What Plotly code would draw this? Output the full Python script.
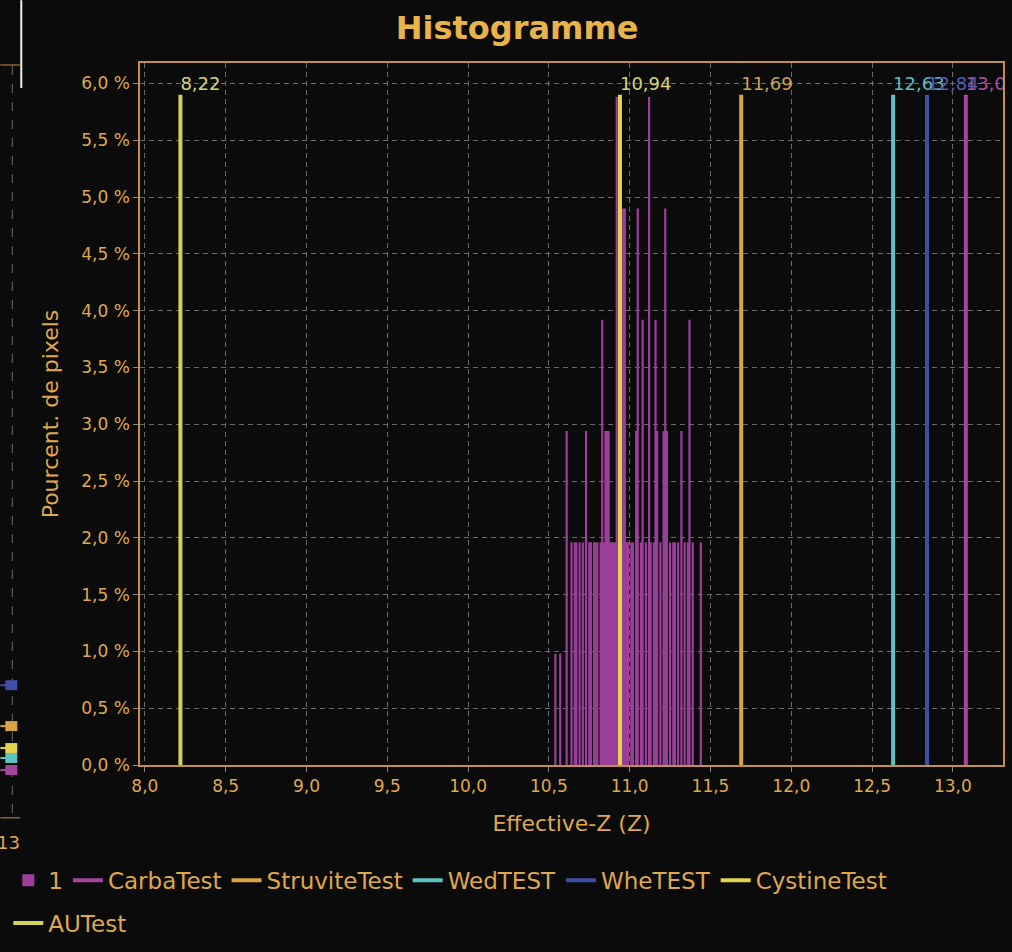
import plotly.graph_objects as go

# ---------------- data ----------------
# histogram of effective-Z (bin centres) and percentage of pixels
hist_z = [10.54, 10.57, 10.61, 10.64, 10.66, 10.67, 10.69, 10.71, 10.73, 10.75,
          10.76, 10.78, 10.79, 10.80, 10.82, 10.83, 10.84, 10.85, 10.86, 10.87,
          10.88, 10.89, 10.90, 10.91, 10.92, 10.93, 10.94, 10.95, 10.96, 10.97,
          10.98, 10.99, 11.01, 11.02, 11.04, 11.05, 11.07, 11.08, 11.10, 11.12,
          11.13, 11.15, 11.16, 11.17, 11.19, 11.21, 11.22, 11.23, 11.25, 11.27,
          11.28, 11.30, 11.32, 11.34, 11.36, 11.37, 11.39, 11.44]
hist_pct = [0.98, 0.98, 2.94, 1.96, 1.96, 1.96, 1.96, 1.96, 2.94, 1.96,
            1.96, 1.96, 1.96, 1.96, 1.96, 3.92, 1.96, 2.94, 2.94, 2.94,
            1.96, 1.96, 1.96, 1.96, 5.88, 1.96, 1.96, 1.96, 4.90, 4.90,
            1.96, 1.96, 1.96, 1.96, 2.94, 4.90, 1.96, 3.92, 1.96, 5.88,
            1.96, 1.96, 3.92, 2.94, 1.96, 2.94, 4.90, 2.94, 1.96, 1.96,
            1.96, 1.96, 2.94, 1.96, 1.96, 3.92, 1.96, 1.96]

# reference material lines
ref_names = ["CarbaTest", "StruviteTest", "WedTEST", "WheTEST", "CystineTest", "AUTest"]
ref_z = [13.08, 11.69, 12.63, 12.84, 10.94, 8.22]
ref_colors = ["#a3449f", "#d9a444", "#5cc3c3", "#3f4fa8", "#e2d44c", "#d2d05a"]
ref_label_colors = ["#a8509f", "#c9a252", "#5fb9bd", "#4d5db0", "#d8d27a", "#d4d47c"]
ref_top = 5.9  # height of the reference lines (%)

x_ticks = [8.0, 8.5, 9.0, 9.5, 10.0, 10.5, 11.0, 11.5, 12.0, 12.5, 13.0]
x_ticktext = ["8,0", "8,5", "9,0", "9,5", "10,0", "10,5", "11,0", "11,5", "12,0", "12,5", "13,0"]
y_ticks = [0.0, 0.5, 1.0, 1.5, 2.0, 2.5, 3.0, 3.5, 4.0, 4.5, 5.0, 5.5, 6.0]
y_ticktext = ["0,0 %", "0,5 %", "1,0 %", "1,5 %", "2,0 %", "2,5 %", "3,0 %", "3,5 %",
              "4,0 %", "4,5 %", "5,0 %", "5,5 %", "6,0 %"]

# ---------------- style ----------------
BG = "#0b0b0b"
GOLD = "#dea84c"
FRAME = "#c4913e"
GRID = "#6a6a6a"
PURPLE = "#9c3f9b"
FONT = "DejaVu Sans"

W, H = 1012, 952
L, R, T, B = 140, 1005, 63, 767


def px(xp):
    return (xp - L) / (R - L)


def py(yp):
    return (B - yp) / (B - T)


fig = go.Figure()

fig.add_trace(go.Bar(
    x=hist_z, y=hist_pct, width=0.0135, name="1",
    marker=dict(color=PURPLE, line=dict(width=0)),
    legend="legend",
))

for name, z, col, lcol in zip(ref_names, ref_z, ref_colors, ref_label_colors):
    lg = "legend2" if name == "AUTest" else "legend"
    fig.add_trace(go.Scatter(
        x=[z, z], y=[0, ref_top], mode="lines", name=name,
        line=dict(color=col, width=4), legend=lg,
    ))
    fig.add_trace(go.Scatter(
        x=[z], y=[ref_top], mode="text", text=[f"{z:.2f}".replace(".", ",")],
        textposition="top right", showlegend=False, cliponaxis=True,
        textfont=dict(family=FONT, size=18, color=lcol),
        hoverinfo="skip",
    ))

axis_common = dict(
    showline=True, linecolor=FRAME, linewidth=1.5, mirror=True,
    showgrid=True, gridcolor=GRID, griddash="5px,4px", gridwidth=1,
    zeroline=False, ticks="outside", ticklen=5, tickcolor="#8a8a8a",
    tickfont=dict(family=FONT, size=17, color=GOLD),
)

fig.update_xaxes(
    range=[7.97, 13.31], tickvals=x_ticks, ticktext=x_ticktext,
    title=dict(text="Effective-Z (Z)", font=dict(family=FONT, size=22, color=GOLD), standoff=20),
    **axis_common,
)
fig.update_yaxes(
    range=[0, 6.18], tickvals=y_ticks, ticktext=y_ticktext,
    title=dict(text="Pourcent. de pixels", font=dict(family=FONT, size=22, color=GOLD), standoff=17),
    **axis_common,
)

# fragments of the neighbouring panel visible on the left edge
shapes = [
    dict(type="line", xref="paper", yref="paper", x0=px(21), x1=px(21), y0=py(0), y1=py(88),
         line=dict(color="#f0f0f0", width=2)),
    dict(type="line", xref="paper", yref="paper", x0=px(0), x1=px(20), y0=py(65), y1=py(65),
         line=dict(color=FRAME, width=1)),
    dict(type="line", xref="paper", yref="paper", x0=px(12), x1=px(12), y0=py(66), y1=py(820),
         line=dict(color=GRID, width=1, dash="dash")),
    dict(type="line", xref="paper", yref="paper", x0=px(0), x1=px(20), y0=py(820), y1=py(820),
         line=dict(color=FRAME, width=1)),
]
marks = [(687, "#3f4fa8"), (728, "#d9a444"), (750, "#e2d44c"), (760, "#5cc3c3"), (772, "#a3449f")]
for yp, c in marks:
    shapes.append(dict(type="rect", xref="paper", yref="paper", x0=px(5), x1=px(17),
                       y0=py(yp + 5), y1=py(yp - 5), fillcolor=c, line=dict(width=0)))
    shapes.append(dict(type="line", xref="paper", yref="paper", x0=px(0), x1=px(12),
                       y0=py(yp), y1=py(yp), line=dict(color=c, width=2)))

fig.update_layout(
    width=W, height=H,
    margin=dict(l=L, r=W - R, t=T, b=H - B),
    paper_bgcolor=BG, plot_bgcolor=BG,
    title=dict(text="<b>Histogramme</b>", x=0.511, xref="container", y=1 - 28 / H,
               yref="container", xanchor="center", yanchor="middle",
               font=dict(family=FONT, size=32, color="#e8b44a")),
    barmode="overlay",
    showlegend=True,
    legend=dict(orientation="h", x=px(8), y=py(861), xanchor="left", yanchor="top",
                font=dict(family=FONT, size=23, color=GOLD), bgcolor="rgba(0,0,0,0)",
                itemwidth=30, tracegroupgap=0),
    legend2=dict(orientation="h", x=px(8), y=py(904), xanchor="left", yanchor="top",
                 font=dict(family=FONT, size=23, color=GOLD), bgcolor="rgba(0,0,0,0)",
                 itemwidth=30),
    shapes=shapes,
    annotations=[dict(text="13", xref="paper", yref="paper", x=px(22), y=py(845),
                      xanchor="right", yanchor="middle", showarrow=False,
                      font=dict(family=FONT, size=18, color=GOLD))],
)

fig.write_html("out.html", config={"displayModeBar": False},
               post_script="document.body.style.margin='0px';")
